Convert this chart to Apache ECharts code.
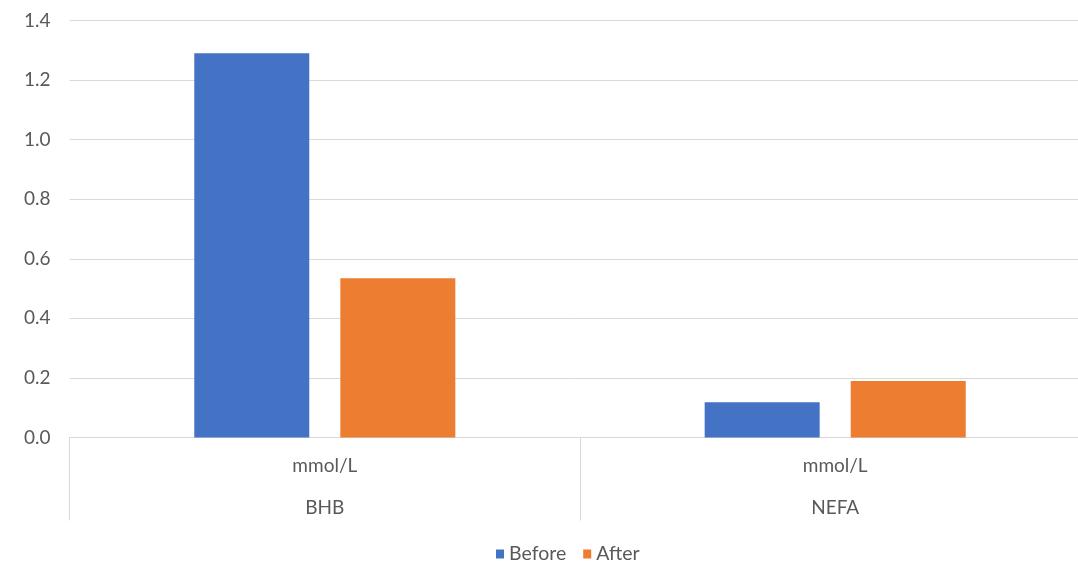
<!DOCTYPE html>
<html>
<head>
<meta charset="utf-8">
<script src="https://cdn.jsdelivr.net/npm/echarts@6/dist/echarts.min.js"></script>
<style>
  html, body { margin: 0; padding: 0; background: #fff; }
  #chart { width: 1078px; height: 565px; }
</style>
</head>
<body>
<div id="chart"></div>
<script>
// Metabolite groups and their measurement unit
const categories = ['BHB', 'NEFA'];
const units = ['mmol/L', 'mmol/L'];
const seriesNames = ['Before', 'After'];
const beforeValues = [1.29, 0.118];
const afterValues = [0.535, 0.19];
const yTicks = [0, 0.2, 0.4, 0.6, 0.8, 1.0, 1.2, 1.4];

const FONT = 'Lato';
const TEXT = '#595959';
const LINE = '#d9d9d9';
const SIZE = 19;

const chart = echarts.init(document.getElementById('chart'), null, { renderer: 'canvas' });

chart.setOption({
  animation: false,
  textStyle: { fontFamily: FONT },
  // plot area runs slightly past the right edge of the canvas
  grid: {
    left: 69.6, width: 1020.8, top: 20.5, height: 417,
    containLabel: false,
    outerBoundsMode: 'none'
  },
  legend: {
    top: 539,
    left: 491,
    icon: 'rect',
    itemWidth: 8,
    itemHeight: 9,
    itemGap: 17,
    textStyle: { color: TEXT, fontSize: 19.5, fontFamily: FONT },
    data: seriesNames
  },
  xAxis: {
    type: 'category',
    data: categories,
    boundaryGap: true,
    axisLine: { show: true, lineStyle: { color: LINE, width: 1 } },
    axisTick: { show: true, length: 83, lineStyle: { color: LINE, width: 1 } },
    axisLabel: {
      margin: 7,
      interval: 0,
      formatter: (v, i) => '{u|' + units[i] + '}\n{c|' + v + '}',
      rich: {
        u: { color: TEXT, fontSize: SIZE, fontFamily: FONT, lineHeight: 42 },
        c: { color: TEXT, fontSize: SIZE, fontFamily: FONT, lineHeight: 42 }
      }
    },
    splitLine: { show: false }
  },
  yAxis: {
    type: 'value',
    min: yTicks[0],
    max: yTicks[yTicks.length - 1],
    interval: 0.2,
    axisLine: { show: false },
    axisTick: { show: false },
    axisLabel: {
      color: TEXT,
      fontSize: SIZE,
      fontFamily: FONT,
      margin: 19,
      formatter: v => v.toFixed(1)
    },
    splitLine: { lineStyle: { color: LINE, width: 1 } }
  },
  series: [
    {
      name: seriesNames[0],
      type: 'bar',
      data: beforeValues,
      barWidth: 115,
      barGap: '27%',
      itemStyle: { color: '#4472C4' }
    },
    {
      name: seriesNames[1],
      type: 'bar',
      data: afterValues,
      barWidth: 115,
      barGap: '27%',
      itemStyle: { color: '#ED7D31' }
    }
  ]
});
</script>
</body>
</html>
